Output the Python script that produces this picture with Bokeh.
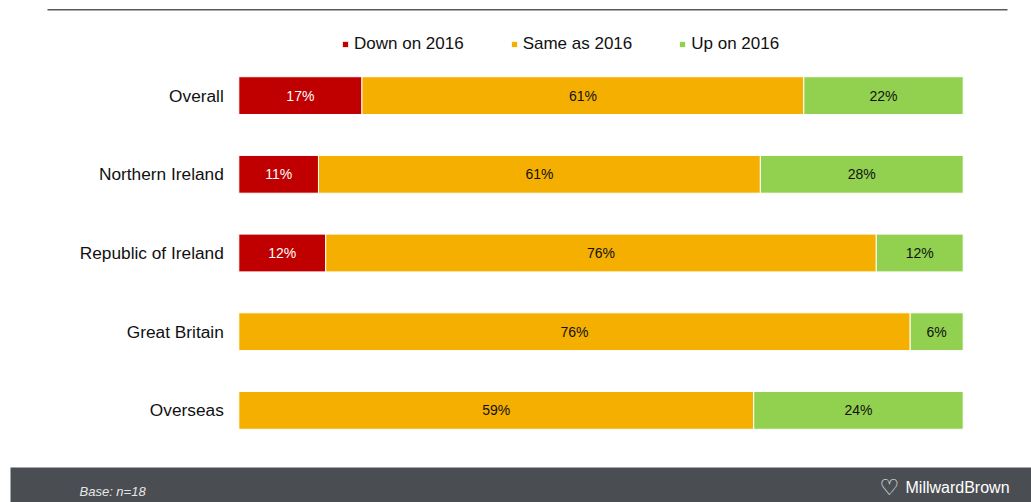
from bokeh.plotting import figure
from bokeh.models import (ColumnDataSource, FactorRange, Range1d, Legend, LegendItem,
                          Label, BoxAnnotation)
from bokeh.core.properties import value
from bokeh.embed import file_html
from bokeh.resources import INLINE

# ---------------- data ----------------
categories = ["Overall", "Northern Ireland", "Republic of Ireland", "Great Britain", "Overseas"]
series_names = ["Down on 2016", "Same as 2016", "Up on 2016"]
down_values = [17, 11, 12, 0, 0]
same_values = [61, 61, 76, 76, 59]
up_values = [22, 28, 12, 6, 24]
base_note = "Base: n=18"
brand_name = "MillwardBrown"

# ---------------- style ----------------
series_colors = ["#C00000", "#F5AF00", "#92D050"]
label_colors = ["#FFFFFF", "#111111", "#111111"]
FONT = "Liberation Sans"
W, H = 1031, 502
PX_PER_UNIT = 7.244          # horizontal scale: 100 % spans 724 px
ZERO_PX = 238.3              # where 0 % sits

x_start = -ZERO_PX / PX_PER_UNIT
x_end = x_start + W / PX_PER_UNIT

p = figure(width=W, height=H,
           y_range=FactorRange(factors=categories[::-1], range_padding=0.6705,
                               range_padding_units="absolute"),
           x_range=Range1d(x_start, x_end),
           x_axis_location=None, y_axis_location=None,
           output_backend="svg", toolbar_location=None,
           min_border_left=0, min_border_right=0,
           min_border_top=3, min_border_bottom=0)
p.outline_line_color = None
p.grid.visible = False
p.background_fill_color = "white"
p.border_fill_color = "white"

all_values = [down_values, same_values, up_values]
totals = [d + s + u for d, s, u in zip(down_values, same_values, up_values)]
cum = [0.0] * len(categories)
renderers = []
for name, vals, color, tcolor in zip(series_names, all_values, series_colors, label_colors):
    cats, lefts, rights, mids, texts = [], [], [], [], []
    for i, (c, v, t) in enumerate(zip(categories, vals, totals)):
        share = v / t * 100.0
        if v > 0:
            cats.append(c)
            lefts.append(cum[i])
            rights.append(cum[i] + share)
            mids.append(cum[i] + share / 2)
            texts.append(f"{v}%")
        cum[i] += share
    src = ColumnDataSource(dict(cat=cats, left=lefts, right=rights, mid=mids, text=texts))
    r = p.hbar(y="cat", left="left", right="right", height=0.48, source=src,
               fill_color=color, line_color="white", line_width=1)
    p.text(x="mid", y="cat", text="text", source=src, text_align="center",
           text_baseline="middle", text_color=tcolor, text_font=value(FONT),
           text_font_size="14px")
    renderers.append(r)

# category labels (left of the bars)
cat_src = ColumnDataSource(dict(cat=categories, x=[-15 / PX_PER_UNIT] * len(categories)))
p.text(x="x", y="cat", text="cat", source=cat_src, text_align="right",
       text_baseline="middle", text_color="#111111", text_font=value(FONT),
       text_font_size="17.3px")

legend = Legend(items=[LegendItem(label=n, renderers=[r]) for n, r in zip(series_names, renderers)],
                orientation="horizontal", location=(341, 448),
                glyph_width=8, glyph_height=8, label_standoff=5, spacing=46,
                padding=0, margin=0, border_line_color=None, background_fill_alpha=0,
                label_text_font=FONT, label_text_font_size="17px", label_text_color="#111111")
p.add_layout(legend, "center")

# top rule
p.add_layout(BoxAnnotation(left=47, right=1007, top=493.5, bottom=492,
                           left_units="screen", right_units="screen",
                           top_units="screen", bottom_units="screen",
                           fill_color="#595959", fill_alpha=1, line_color=None))
# footer band
p.add_layout(BoxAnnotation(left=10, right=1031, top=35, bottom=0,
                           left_units="screen", right_units="screen",
                           top_units="screen", bottom_units="screen",
                           fill_color="#4A4E53", fill_alpha=1, line_color=None))
p.add_layout(Label(x=79, y=11, x_units="screen", y_units="screen", text=base_note,
                   text_font=FONT, text_font_style="italic", text_font_size="13px",
                   text_color="#E6E6E6", text_baseline="middle"))
p.add_layout(Label(x=879, y=15, x_units="screen", y_units="screen", text="\u2661",
                   text_font="DejaVu Sans", text_font_style="bold", text_font_size="22px",
                   text_color="white", text_baseline="middle"))
p.add_layout(Label(x=905, y=15, x_units="screen", y_units="screen", text=brand_name,
                   text_font=FONT, text_font_size="16px",
                   text_color="white", text_baseline="middle"))

open("out.html", "w").write(file_html(p, INLINE))
